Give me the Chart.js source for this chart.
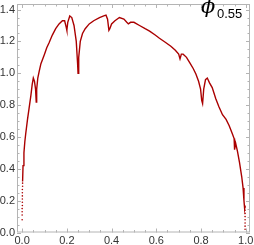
<!DOCTYPE html>
<html>
<head>
<meta charset="utf-8">
<script src="https://cdn.jsdelivr.net/npm/chart.js@4"></script>
<style>
  body { margin: 0; background: #fff; }
  #wrap { width: 254px; height: 245px; }
</style>
</head>
<body>
<div id="wrap"><canvas id="chart" width="254" height="245"></canvas></div>
<script>
// values
const xs = [0.002, 0.004, 0.008, 0.012, 0.016, 0.024, 0.031, 0.039, 0.045,
    0.050, 0.055, 0.060, 0.063, 0.065, 0.070, 0.076, 0.084, 0.092, 0.100,
    0.110, 0.120, 0.135, 0.150, 0.165, 0.180, 0.190, 0.197, 0.200, 0.204,
    0.213, 0.222, 0.232, 0.242, 0.248, 0.250, 0.253, 0.260, 0.270, 0.282,
    0.300, 0.320, 0.346, 0.365, 0.375, 0.382, 0.388, 0.392, 0.400, 0.415,
    0.435, 0.455, 0.468, 0.475, 0.485, 0.500, 0.525, 0.550, 0.570, 0.595,
    0.614, 0.640, 0.665, 0.685, 0.700, 0.706, 0.712, 0.720, 0.735, 0.750,
    0.765, 0.777, 0.789, 0.798, 0.803, 0.807, 0.812, 0.820, 0.828, 0.838,
    0.850, 0.866, 0.880, 0.896, 0.912, 0.926, 0.940, 0.948, 0.950, 0.955,
    0.963, 0.972, 0.982, 0.988, 0.992, 0.995, 0.997];
const ys = [0.32, 0.42, 0.50, 0.57, 0.62, 0.71, 0.78, 0.86, 0.93,
    0.97, 0.95, 0.90, 0.82, 0.90, 0.97, 1.01, 1.06, 1.09, 1.12,
    1.16, 1.19, 1.24, 1.28, 1.31, 1.33, 1.33, 1.29, 1.27, 1.32,
    1.36, 1.35, 1.30, 1.20, 1.06, 1.00, 1.10, 1.20, 1.25, 1.28,
    1.31, 1.33, 1.35, 1.36, 1.365, 1.34, 1.27, 1.28, 1.31, 1.33,
    1.35, 1.34, 1.32, 1.31, 1.32, 1.32, 1.30, 1.28, 1.265, 1.24,
    1.22, 1.195, 1.17, 1.145, 1.12, 1.09, 1.12, 1.12, 1.10, 1.065,
    1.03, 0.995, 0.95, 0.90, 0.83, 0.81, 0.90, 0.96, 0.97, 0.94,
    0.91, 0.84, 0.79, 0.74, 0.71, 0.67, 0.62, 0.59, 0.52, 0.56,
    0.51, 0.44, 0.35, 0.28, 0.20, 0.15, 0.17];
// loose sample points where the curve runs almost vertically at the ends
const dotXs = [0.000, 0.000, 0.000, 0.000, 0.001, 0.001, 0.001, 0.001, 0.001, 0.001, 0.002, 0.002,
    0.997, 0.997, 0.997, 0.997, 0.997, 0.997, 0.997, 0.997];
const dotYs = [0.08, 0.11, 0.13, 0.15, 0.17, 0.19, 0.21, 0.23, 0.25, 0.27, 0.29, 0.31,
    0.02, 0.04, 0.06, 0.08, 0.10, 0.12, 0.14, 0.16];
const majorTicks = [0, 0.2, 0.4, 0.6, 0.8, 1.0, 1.2, 1.4];
const minorStep = 0.05;
const label = { sym: 'ϕ', sub: '0.55' };

const curveColor = '#aa0000';
const frameColor = '#b4b4b4';
const isMajor = v => majorTicks.some(m => Math.abs(m - v) < 1e-6);

// Mathematica style frame: box all round, ticks pointing in
const framePlugin = {
    id: 'frame',
    afterDraw(chart) {
        const ctx = chart.ctx;
        const a = chart.chartArea;
        const sx = chart.scales.x, sy = chart.scales.y;
        ctx.save();
        ctx.strokeStyle = frameColor;
        ctx.lineWidth = 1;
        ctx.strokeRect(a.left + 0.5, a.top + 0.5, a.right - a.left - 1, a.bottom - a.top - 1);
        ctx.beginPath();
        sx.ticks.forEach(t => {
            const p = Math.round(sx.getPixelForValue(t.value)) + 0.5;
            const len = isMajor(t.value) ? 4 : 2.5;
            ctx.moveTo(p, a.bottom); ctx.lineTo(p, a.bottom - len);
            ctx.moveTo(p, a.top); ctx.lineTo(p, a.top + len);
        });
        sy.ticks.forEach(t => {
            const p = Math.round(sy.getPixelForValue(t.value)) + 0.5;
            const len = isMajor(t.value) ? 4 : 2.5;
            ctx.moveTo(a.left, p); ctx.lineTo(a.left + len, p);
            ctx.moveTo(a.right, p); ctx.lineTo(a.right - len, p);
        });
        ctx.stroke();

        ctx.fillStyle = '#000';
        ctx.textBaseline = 'alphabetic';
        ctx.font = 'italic 21px "DejaVu Serif"';
        ctx.fillText(label.sym, 201, 13);
        ctx.font = '13px "Liberation Sans"';
        ctx.fillText(label.sub, 217, 18);
        ctx.restore();
    }
};

const tickFont = { family: 'Liberation Sans', size: 11 };
const fmt = v => isMajor(v) ? v.toFixed(1) : '';

new Chart(document.getElementById('chart'), {
    type: 'scatter',
    data: {
        datasets: [{
            data: xs.map((x, i) => ({ x: x, y: ys[i] })),
            showLine: true,
            borderColor: curveColor,
            borderWidth: 1.4,
            pointRadius: 0,
            tension: 0
        }, {
            data: dotXs.map((x, i) => ({ x: x, y: dotYs[i] })),
            showLine: false,
            backgroundColor: curveColor,
            borderWidth: 0,
            pointRadius: 0.8
        }]
    },
    options: {
        responsive: false,
        animation: false,
        layout: { padding: { top: 0, right: 3, left: 0, bottom: 0 } },
        plugins: { legend: { display: false }, tooltip: { enabled: false } },
        scales: {
            x: {
                min: -0.023, max: 1.019,
                grid: { display: false, drawTicks: false },
                border: { display: false },
                ticks: {
                    stepSize: minorStep, includeBounds: false, autoSkip: false,
                    maxRotation: 0, padding: 2, color: '#333', font: tickFont,
                    callback: fmt
                },
                afterFit: s => { s.height = 12.5; s.paddingLeft = 0; s.paddingRight = 0; }
            },
            y: {
                min: 0, max: 1.435,
                grid: { display: false, drawTicks: false },
                border: { display: false },
                ticks: {
                    stepSize: minorStep, includeBounds: false, autoSkip: false,
                    padding: 2, color: '#333', font: tickFont,
                    callback: fmt
                },
                afterFit: s => { s.width = 17; s.paddingTop = 0; s.paddingBottom = 0; }
            }
        }
    },
    plugins: [framePlugin]
});
</script>
</body>
</html>
